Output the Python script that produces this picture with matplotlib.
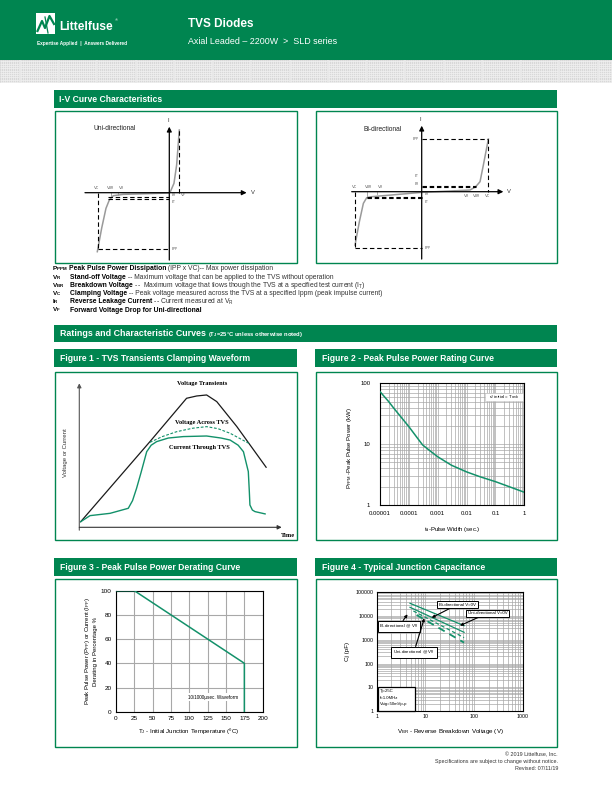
import numpy as np
import matplotlib
matplotlib.use('Agg')
import matplotlib.pyplot as plt
from matplotlib.patches import Rectangle
from matplotlib.lines import Line2D
from matplotlib import font_manager

# --- page geometry (pixels, origin top-left) ---
W, H = 612, 792
GREEN = '#008550'
LINE_GREEN = '#13916a'
GREY = '#9a9a9a'

names = {f.name for f in font_manager.fontManager.ttflist}
NARROW = 'Liberation Sans Narrow' if 'Liberation Sans Narrow' in names else 'Liberation Sans'
NS = 1.0 if NARROW == 'Liberation Sans Narrow' else 0.82
SANS = 'Liberation Sans'
SERIF = 'Liberation Serif'
plt.rcParams['font.family'] = [SANS, 'DejaVu Sans']

# --- I-V curve sketches (schematic units) ---
UNI_V = [-216, -203, -190, -180, -168, -138, 0, 4, 14, 22, 30]
UNI_I = [-177, -107, -47, -22, -9, -5, -1, 5, 28, 83, 188]
UNI_VC, UNI_VBR, UNI_VR, UNI_VF = -213, -185, -153, 30
UNI_IPP, UNI_IR, UNI_IT = -170, -12, -18

BI_V = [-200, -187, -175, -165, -150, 0, 145, 162, 175, 185, 200]
BI_I = [-160, -90, -35, -18, -15, -2, 5, 15, 30, 80, 158]
BI_VC, BI_VBR = 200, 165
BI_IPP, BI_IR, BI_IT = 158, 13, 17

# --- Figure 1: clamping waveform (relative units) ---
T_TRANS = [0.7, 34.9, 53.0, 58.0, 62.9, 67.9, 77.8, 92.3]
V_TRANS = [3.9, 59.5, 89.6, 91.2, 91.9, 87.3, 70.0, 41.7]
T_CLAMP = [34.9, 41.0, 48.1, 56.0, 62.9, 68.5, 74.5, 84.3]
V_CLAMP = [59.0, 63.0, 66.4, 68.8, 69.9, 68.5, 65.3, 57.9]
T_CUR = [0.7, 5.3, 15.2, 24.2, 26.3, 28.3, 30.5, 33.3, 35.5, 38.2, 44.0, 51.4,
         62.9, 70.0, 74.5, 78.5, 81.1, 83.5, 84.0, 84.3, 85.5, 86.8, 91.8]
I_CUR = [3.9, 8.1, 9.7, 13.2, 18.5, 27.1, 38.0, 52.5, 57.0, 59.5, 62.0, 63.0,
         63.4, 62.0, 60.6, 57.0, 52.5, 38.7, 25.0, 15.5, 12.0, 10.9, 9.3]

# --- Figure 2: peak pulse power vs pulse width ---
PULSE_W = [1e-5, 2e-5, 3e-5, 5e-5, 1e-4, 2e-4, 3e-4, 5e-4, 1e-3, 3e-3, 1e-2, 3e-2, 1e-1, 3e-1, 1]
PULSE_P = [73, 50, 39, 29, 19.4, 12.5, 9.7, 8.0, 6.2, 4.5, 3.5, 2.9, 2.42, 2.0, 1.62]

# --- Figure 3: derating ---
TJ = [0, 25, 175, 175]
DERATE = [100, 100, 40, 0]

# --- Figure 4: junction capacitance ---
CAP_V = [[4.84, 62.4], [4.84, 62.4], [5.67, 62.4], [6.6, 62.4]]
CAP_C = [[34400, 3940], [23300, 2065], [16300, 1230], [11100, 760]]
CAP_STYLE = ['-', '-', (0, (3, 2)), (0, (4, 3))]
CAP_LW = [0.9, 0.9, 0.9, 1.3]

DEFS = [
    (r'$\mathregular{P_{PPM}}$', 'Peak Pulse Power Dissipation', ' (IPP x VC)-- Max power dissipation'),
    (r'$\mathregular{V_R}$', 'Stand-off Voltage', ' -- Maximum voltage that can be applied to the TVS without operation'),
    (r'$\mathregular{V_{BR}}$', 'Breakdown Voltage', r' --  Maximum voltage that flows though the TVS at a specified test current ($\mathregular{I_T}$)'),
    (r'$\mathregular{V_C}$', 'Clamping Voltage', ' -- Peak voltage measured across the TVS at a specified Ippm (peak impulse current)'),
    (r'$\mathregular{I_R}$', 'Reverse Leakage Current', r' -- Current measured at $\mathregular{V_R}$'),
    (r'$\mathregular{V_F}$', 'Forward Voltage Drop for Uni-directional', ''),
]

fig = plt.figure(figsize=(W / 100, H / 100), dpi=100)


def fx(x):
    return x / W


def fy(y):
    return 1 - y / H


def rect(x0, y0, x1, y1, **kw):
    r = Rectangle((fx(x0), fy(y1)), (x1 - x0) / W, (y1 - y0) / H, transform=fig.transFigure, **kw)
    fig.patches.append(r)
    return r


def ftext(x, y, s, **kw):
    kw.setdefault('va', 'center')
    return fig.text(fx(x), fy(y), s, **kw)


def axes_px(x0, y0, x1, y1):
    return fig.add_axes([fx(x0), fy(y1), (x1 - x0) / W, (y1 - y0) / H])


def canvas(box, origin, sx, sy):
    x0, y0, x1, y1 = box
    ax = axes_px(*box)
    ax.set_xlim((x0 - origin[0]) * sx, (x1 - origin[0]) * sx)
    ax.set_ylim((origin[1] - y1) * sy, (origin[1] - y0) * sy)
    ax.axis('off')
    return ax


def arrow(ax, p0, p1, color='k', lw=0.9, ms=7):
    ax.annotate('', xy=p1, xytext=p0,
                arrowprops=dict(arrowstyle='-|>', color=color, lw=lw, mutation_scale=ms,
                                shrinkA=0, shrinkB=0))


def right_of(t):
    bb = t.get_window_extent(renderer=fig.canvas.get_renderer())
    return bb.x1


def bar(x0, y0, x1, y1, title, tx):
    rect(x0, y0, x1, y1, facecolor=GREEN, edgecolor='none')
    return ftext(tx, (y0 + y1) / 2 + 0.3, title, color='white', fontsize=6.2, fontweight='bold', family=SANS)


# ---------------- header ----------------
rect(0, 0, W, 59.5, facecolor=GREEN, edgecolor='none')
band = axes_px(0, 60, W, 83)
band.set_xlim(0, W)
band.set_ylim(0, 23)
band.add_patch(Rectangle((0, 0), W, 23, facecolor='#d8d8d8', zorder=-1))
band.vlines(np.arange(0.5, W, 2), 0, 23, color='#efefef', lw=0.5)
band.hlines(np.arange(1, 23, 2.3), 0, W, color='#f2f2f2', lw=0.5)
band.vlines(np.arange(20, W, 38.5), 0, 23, color='#e9e9e9', lw=1.2)
band.axis('off')

rect(36, 13.3, 55.3, 34.3, facecolor='white', edgecolor='none')
fig.add_artist(Line2D([fx(37.5), fx(42), fx(45), fx(49.5), fx(54)],
                      [fy(31), fy(21), fy(28), fy(16), fy(24)],
                      transform=fig.transFigure, color=GREEN, lw=1.6))
fig.add_artist(Line2D([fx(45), fx(48)], [fy(17), fy(33)], transform=fig.transFigure, color=GREEN, lw=0.9))
ftext(59.5, 27, 'Littelfuse', color='white', fontsize=10.5 * NS, fontweight='bold', family=NARROW)
ftext(115, 20, '®', color='white', fontsize=3)
ftext(37, 43, 'Expertise Applied  |  Answers Delivered', color='white', fontsize=4.2 * NS,
      fontweight='bold', family=NARROW)
ftext(188, 24, 'TVS Diodes', color='white', fontsize=8.5, fontweight='bold', family=SANS)
ftext(188, 41.5, 'Axial Leaded – 2200W  >  SLD series', color='white', fontsize=7.8 * NS, family=NARROW)

# ---------------- I-V section ----------------
bar(54, 90, 557, 108, 'I-V Curve Characteristics', 59)
rect(55, 111, 297, 263, fill=False, edgecolor=GREEN, lw=1.0)
rect(316, 111, 557, 263, fill=False, edgecolor=GREEN, lw=1.0)

dash = dict(color='k', lw=0.8, ls=(0, (4, 2.5)))
lab = dict(fontsize=3.2, color='#555555', family=SANS)

ax = canvas((55, 111, 297, 263), (169.3, 192.7), 3, 3)
arrow(ax, (-253, 0), (232, 0))
arrow(ax, (0, -202), (0, 198))
ax.plot(UNI_V, UNI_I, color=GREY, lw=1.1)
ax.plot([UNI_VC, UNI_VC], [0, UNI_IPP - 2], **dash)
ax.plot([UNI_VC, 0], [UNI_IPP, UNI_IPP], **dash)
ax.plot([UNI_VBR, 0], [UNI_IR, UNI_IR], **dash)
ax.plot([UNI_VBR, 0], [UNI_IT, UNI_IT], **dash)
ax.plot([UNI_VF, UNI_VF], [0, 188], **dash)
ax.plot([UNI_VBR + 9, UNI_VBR + 9], [0, -10], color=GREY, lw=0.6)
ax.plot([UNI_VR, UNI_VR], [0, -7], color=GREY, lw=0.6)
ax.text(245, 0, 'V', fontsize=4.2, va='center', color='#333333')
ax.text(-3, 218, 'I', fontsize=4.2, ha='center', va='center', color='#333333')
ax.text(-228, 193, 'Uni-directional', fontsize=4.8, va='center', color='#222222')
ax.text(-230, 13, r'$\mathregular{V_C}$', **lab, va='center')
ax.text(-190, 13, r'$\mathregular{V_{BR}}$', **lab, va='center')
ax.text(-153, 13, r'$\mathregular{V_R}$', **lab, va='center')
ax.text(4, -6, r'$\mathregular{I_R}$', **lab, va='center')
ax.text(32, -6, r'$\mathregular{V_F}$', **lab, va='center')
ax.text(4, -29, r'$\mathregular{I_T}$', **lab, va='center')
ax.text(4, UNI_IPP, r'$\mathregular{I_{PP}}$', **lab, va='center')

ax = canvas((316, 111, 557, 263), (421.7, 191.7), 3, 3)
arrow(ax, (-210, 0), (245, 0))
arrow(ax, (0, -202), (0, 198))
ax.plot(BI_V, BI_I, color=GREY, lw=1.1)
ax.plot([0, BI_VC], [BI_IPP, BI_IPP], **dash)
ax.plot([BI_VC, BI_VC], [BI_IPP, 0], **dash)
ax.plot([0, BI_VBR - 3], [BI_IT, BI_IT], **dash)
ax.plot([0, BI_VBR - 3], [BI_IR, BI_IR], **dash)
ax.plot([-BI_VC, 0], [-BI_IPP - 12, -BI_IPP - 12], **dash)
ax.plot([-BI_VC, -BI_VC], [0, -BI_IPP - 12], **dash)
ax.plot([-BI_VBR, 0], [-BI_IR - 2, -BI_IR - 2], **dash)
ax.plot([-BI_VBR, 0], [-BI_IT - 2, -BI_IT - 2], **dash)
ax.plot([-BI_VBR, -BI_VBR], [0, -12], color=GREY, lw=0.6)
ax.plot([-135, -135], [0, -7], color=GREY, lw=0.6)
ax.text(257, 0, 'V', fontsize=4.2, va='center', color='#333333')
ax.text(-3, 218, 'I', fontsize=4.2, ha='center', va='center', color='#333333')
ax.text(-175, 188, 'Bi-directional', fontsize=4.8, va='center', color='#222222')
ax.text(-8, 157, r'$\mathregular{I_{PP}}$', **lab, va='center', ha='right')
ax.text(-8, 47, r'$\mathregular{I_T}$', **lab, va='center', ha='right')
ax.text(-8, 24, r'$\mathregular{I_R}$', **lab, va='center', ha='right')
ax.text(-213, 14, r'$\mathregular{V_C}$', **lab, va='center')
ax.text(-172, 14, r'$\mathregular{V_{BR}}$', **lab, va='center')
ax.text(-135, 14, r'$\mathregular{V_R}$', **lab, va='center')
ax.text(125, -12, r'$\mathregular{V_R}$', **lab, va='center')
ax.text(152, -12, r'$\mathregular{V_{BR}}$', **lab, va='center')
ax.text(188, -12, r'$\mathregular{V_C}$', **lab, va='center')
ax.text(6, -8, r'$\mathregular{I_R}$', **lab, va='center')
ax.text(6, -32, r'$\mathregular{I_T}$', **lab, va='center')
ax.text(8, -BI_IPP - 12, r'$\mathregular{I_{PP}}$', **lab, va='center')

# ---------------- definitions ----------------
for k, (sym, term, desc) in enumerate(DEFS):
    y = 270.5 + 8.2 * k
    s = ftext(51.5, y, sym, fontsize=4.6, fontweight='bold', family=SANS, va='baseline')
    tx = right_of(s) + 1.5 if k == 0 else 70
    t = ftext(tx, y, term, fontsize=4.9, fontweight='bold', family=SANS, va='baseline')
    if desc:
        fig.text(right_of(t) / W, fy(y), desc, fontsize=4.9, family=SANS, va='baseline',
                 color='#333333')

# ---------------- ratings bar and figure headers ----------------
t = bar(54, 325, 557, 342, 'Ratings and Characteristic Curves', 60)
t.set_fontsize(6.4)
fig.text(right_of(t) / W + 0.003, fy(334.5), r'($\mathregular{T_J}$=25°C unless otherwise noted)',
         color='white', fontsize=4.2, fontweight='bold', va='center', family=SANS)
bar(54, 349, 297, 367, 'Figure 1 - TVS Transients Clamping Waveform', 60)
bar(315, 349, 557, 367, 'Figure 2 - Peak Pulse Power Rating Curve', 321.5)
bar(54, 558, 297, 576, 'Figure 3 - Peak Pulse Power Derating Curve', 60)
bar(315, 558, 557, 576, 'Figure 4 - Typical Junction Capacitance', 321.5)
for box in [(55, 372, 297, 540), (316, 372, 557, 540), (55, 579, 297, 747), (316, 579, 557, 747)]:
    rect(*box, fill=False, edgecolor=GREEN, lw=1.0)

# ---------------- Figure 1 ----------------
ax = canvas((56, 373, 296, 539), (79.3, 527.3), 100 / 202.4, 100 / 144)
arrow(ax, (0, -2), (0, 100), color='#555555', lw=0.8, ms=6)
arrow(ax, (0, 0), (100, 0), color='#333333', lw=0.8, ms=6)
ax.plot(T_TRANS, V_TRANS, color='#1a1a1a', lw=0.9)
ax.plot(T_CLAMP, V_CLAMP, color=LINE_GREEN, lw=0.8, ls=(0, (2.5, 1.5)))
ax.plot(T_CUR, I_CUR, color=LINE_GREEN, lw=1.0)
ftext(202, 384, 'Voltage Transients', family=SERIF, fontweight='bold', fontsize=4.6, ha='center')
ftext(202, 422, 'Voltage Across TVS', family=SERIF, fontweight='bold', fontsize=4.6, ha='center')
ftext(199, 447, 'Current Through TVS', family=SERIF, fontweight='bold', fontsize=4.6, ha='center')
ftext(288, 535.5, 'Time', family=SERIF, fontweight='bold', fontsize=4.6, ha='center')
ftext(65, 453, 'Voltage or Current', fontsize=4.3, rotation=90, ha='center', color='#333333')

# ---------------- Figure 2 ----------------
ax = axes_px(380, 383.3, 524.3, 505)
ax.plot(PULSE_W, PULSE_P, color=LINE_GREEN, lw=1.1, zorder=3)
ax.set_xscale('log')
ax.set_yscale('log')
ax.set_xlim(1e-5, 1)
ax.set_ylim(1, 100)
ax.grid(True, which='both', color='#a8a8a8', lw=0.5)
ax.set_xticks([1e-5, 1e-4, 1e-3, 1e-2, 1e-1, 1])
ax.set_xticklabels(['0.00001', '0.0001', '0.001', '0.01', '0.1', '1'])
ax.set_yticks([1, 10, 100])
ax.set_yticklabels(['1', '10', '100'])
ax.tick_params(which='both', length=0, labelsize=4.3, pad=4)
ax.tick_params(axis='y', pad=7)
for s in ax.spines.values():
    s.set_linewidth(0.8)
rect(485, 393.3, 523.3, 400.7, facecolor='white', edgecolor='#bbbbbb', lw=0.4, zorder=5)
ftext(504, 397, r'$\mathregular{τ_J}$ initial = $\mathregular{T_{amb}}$', fontsize=3.2, ha='center', zorder=6)
ftext(349, 448, r'$\mathregular{P_{PPM}}$ -Peak Pulse Power (kW)', fontsize=4.3, rotation=90, ha='center')
ftext(452, 529, r'$\mathregular{t_d}$-Pulse Width (sec.)', fontsize=4.3, ha='center')

# ---------------- Figure 3 ----------------
ax = axes_px(116, 590.7, 262.7, 711.7)
ax.plot(TJ, DERATE, color=LINE_GREEN, lw=1.1, zorder=3)
ax.set_xlim(0, 200)
ax.set_ylim(0, 100)
ax.set_xticks(np.arange(0, 201, 25))
ax.set_yticks(np.arange(0, 101, 20))
ax.grid(True, color='#a8a8a8', lw=0.8)
ax.tick_params(length=0, labelsize=4.6, pad=3)
for s in ax.spines.values():
    s.set_linewidth(0.8)
ax.text(0.66, 0.12, '10/1000µsec. Waveform', transform=ax.transAxes, fontsize=3.3, ha='center', va='center',
        bbox=dict(facecolor='white', edgecolor='none', pad=1.2), zorder=4)
ftext(87.5, 651, r'Peak Pulse Power ($\mathregular{P_{PP}}$) or Current ($\mathregular{I_{PP}}$)',
      fontsize=4.3, rotation=90, ha='center')
ftext(95, 651, 'Derating in Percentage %', fontsize=4.3, rotation=90, ha='center')
ftext(189, 731, r'$\mathregular{T_J}$ - Initial Junction Temperature (ºC)', fontsize=4.4, ha='center')

# ---------------- Figure 4 ----------------
ax = axes_px(376.7, 592.3, 522.7, 711)
for v, c, ls, lw in zip(CAP_V, CAP_C, CAP_STYLE, CAP_LW):
    ax.plot(v, c, color=LINE_GREEN, lw=lw, ls=ls, zorder=3)
ax.set_xscale('log')
ax.set_yscale('log')
ax.set_xlim(1, 1000)
ax.set_ylim(1, 1e5)
ax.grid(True, which='both', color='#a8a8a8', lw=0.5)
ax.set_xticks([1, 10, 100, 1000])
ax.set_xticklabels(['1', '10', '100', '1000'])
ax.set_yticks([1, 10, 100, 1000, 1e4, 1e5])
ax.set_yticklabels(['1', '10', '100', '1000', '10000', '100000'])
ax.tick_params(which='both', length=0, labelsize=3.8, pad=2.5)
for s in ax.spines.values():
    s.set_linewidth(0.8)
box = dict(boxstyle='square,pad=0.4', facecolor='white', edgecolor='black', lw=0.7)
arr = dict(arrowstyle='-|>', color='black', lw=0.8, mutation_scale=4, shrinkA=0, shrinkB=0)
notes = [('Bi-directional V=0V', (0.553, 0.897), (13.5, 8500)),
         ('Uni-directional V=0V', (0.758, 0.823), (51.5, 3950)),
         (r'Bi-directional @ $\mathregular{V_R}$', (0.153, 0.714), (4.3, 11800)),
         (r'Uni-directional @ $\mathregular{V_R}$', (0.255, 0.496), (9.5, 8000))]
for s, pos, tip in notes:
    ax.annotate(s, xy=tip, xytext=pos, textcoords='axes fraction', fontsize=3.2, ha='center', va='center',
                bbox=box, arrowprops=arr, zorder=5)
rect(378.3, 686.7, 415, 710.5, facecolor='white', edgecolor='black', lw=0.9, zorder=5)
for k, s in enumerate(['Tj=25C', 'f=1.0MHz', 'Vsig=50mVp-p']):
    ftext(380, 691 + 6.6 * k, s, fontsize=3.1, zorder=6)
ftext(348, 651, 'Cj (pF)', fontsize=4.5, rotation=90, ha='center')
ftext(450, 731, r'$\mathregular{V_{BR}}$ - Reverse Breakdown Voltage (V)', fontsize=4.5, ha='center')

# ---------------- footer ----------------
for k, s in enumerate(['© 2019 Littelfuse, Inc.', 'Specifications are subject to change without notice.',
                       'Revised: 07/11/19']):
    ftext(558, 755 + 7 * k, s, fontsize=4.7 * NS, family=NARROW, ha='right', color='#333333')

fig.savefig('out.png', dpi=100)
